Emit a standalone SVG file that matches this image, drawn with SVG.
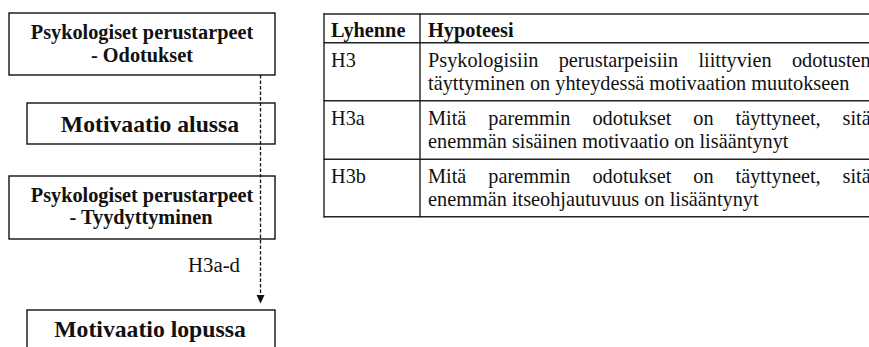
<svg xmlns="http://www.w3.org/2000/svg" width="869" height="347" viewBox="0 0 869 347">
<defs>
<style>
.box{fill:#fff;stroke:#111;stroke-width:1.4}
.b{font-family:"Liberation Serif","Times New Roman",serif;font-weight:bold;fill:#111;text-anchor:middle}
.s{font-size:20.3px}
.l{font-size:23.7px}
.t{font-family:"Liberation Serif","Times New Roman",serif;font-size:20.3px;fill:#111}
.th{font-weight:bold}
.grid{stroke:#222;stroke-width:1.4;fill:none}
.conn{stroke:#111;stroke-width:1.3;stroke-dasharray:3.5 2;fill:none}
.head{fill:#111}
</style>
</defs>
<rect width="869" height="347" fill="#fff"/>

<g id="node-odotukset">
<rect class="box" x="9" y="13" width="266" height="62"/>
<text class="b s" x="142" y="39.3">Psykologiset perustarpeet</text>
<text class="b s" x="142" y="61.7">- Odotukset</text>
</g>

<g id="node-motivaatio-alussa">
<rect class="box" x="27" y="103" width="248" height="41"/>
<text class="b l" x="150" y="131.7">Motivaatio alussa</text>
</g>

<g id="node-tyydyttyminen">
<rect class="box" x="9" y="176" width="266" height="63"/>
<text class="b s" x="142" y="201.7">Psykologiset perustarpeet</text>
<text class="b s" x="141" y="224.3">- Tyydyttyminen</text>
</g>

<g id="node-motivaatio-lopussa">
<rect class="box" x="27" y="310" width="248" height="60"/>
<text class="b l" x="150" y="336.7">Motivaatio lopussa</text>
</g>

<g id="connectors">
<line class="conn" x1="260.5" y1="75" x2="260.5" y2="295"/>
<path class="head" d="M256.5,295 L264.5,295 L260.5,303.5 Z"/>
<text class="t" x="188" y="272.3" style="font-size:20.8px">H3a-d</text>
</g>

<g id="table">
<line class="grid" x1="323.5" y1="14" x2="869" y2="14"/>
<line class="grid" x1="323.5" y1="42.7" x2="869" y2="42.7"/>
<line class="grid" x1="323.5" y1="100.7" x2="869" y2="100.7"/>
<line class="grid" x1="323.5" y1="159.3" x2="869" y2="159.3"/>
<line class="grid" x1="323.5" y1="216.7" x2="869" y2="216.7"/>
<line class="grid" x1="324" y1="13.3" x2="324" y2="217.4"/>
<line class="grid" x1="420" y1="13.3" x2="420" y2="217.4"/>

<text class="t th" x="331" y="36.7">Lyhenne</text>
<text class="t th" x="428" y="36.7">Hypoteesi</text>

<text class="t" x="331" y="66.5">H3</text>
<text class="t" x="428" y="66.5" word-spacing="15.2">Psykologisiin perustarpeisiin liittyvien odotusten</text>
<text class="t" x="428" y="89.5">täyttyminen on yhteydessä motivaation muutokseen</text>

<text class="t" x="331" y="124.5">H3a</text>
<text class="t" x="428" y="124.5" word-spacing="16.9">Mitä paremmin odotukset on täyttyneet, sitä</text>
<text class="t" x="428" y="147.5">enemmän sisäinen motivaatio on lisääntynyt</text>

<text class="t" x="331" y="182.5">H3b</text>
<text class="t" x="428" y="182.5" word-spacing="16.9">Mitä paremmin odotukset on täyttyneet, sitä</text>
<text class="t" x="428" y="205.5">enemmän itseohjautuvuus on lisääntynyt</text>
</g>
</svg>
